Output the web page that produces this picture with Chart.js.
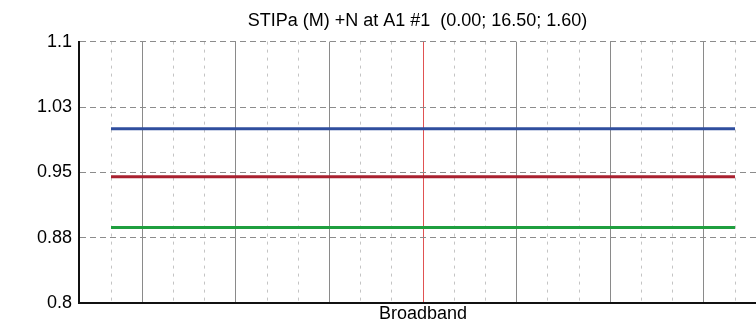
<!DOCTYPE html>
<html>
<head>
<meta charset="utf-8">
<script src="https://cdn.jsdelivr.net/npm/chart.js@4.4.0/dist/chart.umd.min.js"></script>
<style>
  html, body { margin: 0; padding: 0; background: #fff; }
  canvas { display: block; }
</style>
</head>
<body>
<canvas id="stipa" width="756" height="325"></canvas>
<script>
// band index where each line starts and ends
const bandPositions = [0, 20]

// series values
const blueValues = [1.0, 1.0]
const redValues = [0.945, 0.945]
const greenValues = [0.887, 0.887]

// y axis ticks and the labels shown for them
const yTickValues = [0.8, 0.875, 0.95, 1.025, 1.1]
const yTickLabels = ['0.8', '0.88', '0.95', '1.03', '1.1']

// vertical grid: solid every third band, dashed between, Broadband marker in the middle
const majorBands = [1, 4, 7, 13, 16, 19]
const minorBands = [0, 2, 3, 5, 6, 8, 9, 11, 12, 14, 15, 17, 18, 20]
const broadbandBands = [10]
const broadbandLabels = ['Broadband']

const fontFamily = "'Liberation Sans', Arial, sans-serif"

function toPoints(values){
    return values.map(function(v, i){
        return {x: bandPositions[i], y: v}
    })
}

function setTicks(list){
    return function(scale){
        scale.ticks = list.map(function(v){ return {value: v} })
    }
}

const xMin = -1.026
const xMax = 20.673

new Chart(document.getElementById('stipa').getContext('2d'), {
    type: 'line',
    data: {
        datasets: [
            {data: toPoints(blueValues), borderColor: '#2f4e9e', borderWidth: 3, pointRadius: 0},
            {data: toPoints(redValues), borderColor: '#a8202f', borderWidth: 3, pointRadius: 0},
            {data: toPoints(greenValues), borderColor: '#1f9f3f', borderWidth: 3, pointRadius: 0}
        ]
    },
    options: {
        responsive: false,
        animation: false,
        events: [],
        layout: {padding: 0},
        plugins: {
            legend: {display: false},
            tooltip: {enabled: false},
            title: {
                display: true,
                fullSize: false,
                text: 'STIPa (M) +N at A1 #1  (0.00; 16.50; 1.60)',
                color: '#000',
                font: {family: fontFamily, size: 18, weight: 'normal'},
                padding: {top: 10, bottom: 10}
            }
        },
        scales: {
            // solid grey lines every third band
            x: {
                type: 'linear',
                position: 'bottom',
                weight: 1,
                min: xMin,
                max: xMax,
                afterBuildTicks: setTicks(majorBands),
                grid: {drawTicks: false, lineWidth: 1, color: '#8a8a8a'},
                border: {display: false},
                ticks: {display: false}
            },
            // light dashed lines between them
            xMinor: {
                type: 'linear',
                position: 'bottom',
                weight: 2,
                min: xMin,
                max: xMax,
                afterBuildTicks: setTicks(minorBands),
                grid: {drawTicks: false, lineWidth: 1, color: '#c4c4c4'},
                border: {display: false, dash: [3, 5]},
                ticks: {display: false}
            },
            // red Broadband marker, carries the label and the axis line
            xBand: {
                type: 'linear',
                position: 'bottom',
                weight: 0,
                min: xMin,
                max: xMax,
                afterBuildTicks: setTicks(broadbandBands),
                grid: {drawTicks: false, lineWidth: 1, color: '#e05252'},
                border: {display: true, color: '#111', width: 2},
                ticks: {
                    autoSkip: false,
                    maxRotation: 0,
                    padding: 0,
                    color: '#000',
                    font: {family: fontFamily, size: 18},
                    callback: function(value, index){
                        return broadbandLabels[index]
                    }
                }
            },
            y: {
                type: 'linear',
                min: 0.8,
                max: 1.1,
                afterBuildTicks: setTicks(yTickValues),
                afterFit: function(scale){ scale.width = 79 },
                grid: {drawTicks: false, lineWidth: 1, color: '#8c8c8c'},
                border: {display: true, color: '#111', width: 2, dash: [6, 4]},
                ticks: {
                    padding: 7,
                    color: '#000',
                    font: {family: fontFamily, size: 18},
                    callback: function(value, index){
                        return yTickLabels[index]
                    }
                }
            }
        }
    }
})
</script>
</body>
</html>
